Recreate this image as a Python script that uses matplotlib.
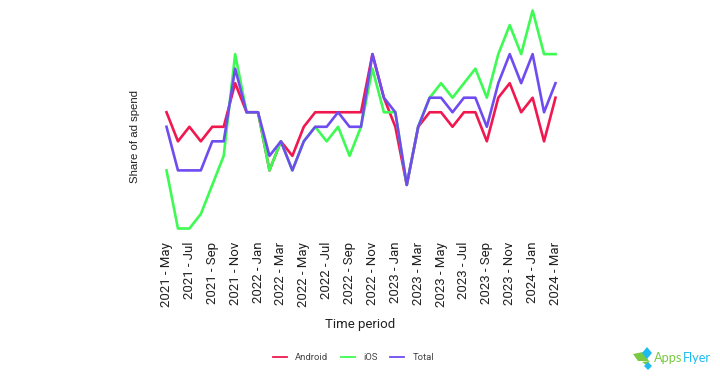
import matplotlib
matplotlib.use("Agg")
import matplotlib.pyplot as plt
from matplotlib.patches import Polygon

plt.rcParams["font.family"] = ["Roboto", "DejaVu Sans"]

# months from 2021 - May to 2024 - Mar, y axis has no scale so values are in relative units
periods = [
    "2021 - May", "2021 - Jun", "2021 - Jul", "2021 - Aug", "2021 - Sep", "2021 - Oct", "2021 - Nov",
    "2021 - Dec", "2022 - Jan", "2022 - Feb", "2022 - Mar", "2022 - Apr", "2022 - May", "2022 - Jun",
    "2022 - Jul", "2022 - Aug", "2022 - Sep", "2022 - Oct", "2022 - Nov", "2022 - Dec", "2023 - Jan",
    "2023 - Feb", "2023 - Mar", "2023 - Apr", "2023 - May", "2023 - Jun", "2023 - Jul", "2023 - Aug",
    "2023 - Sep", "2023 - Oct", "2023 - Nov", "2023 - Dec", "2024 - Jan", "2024 - Feb", "2024 - Mar",
]
android = [8, 6, 7, 6, 7, 7, 10, 8, 8, 4, 6, 5, 7, 8, 8, 8, 8, 8, 12, 9, 7, 3, 7, 8, 8, 7, 8, 8, 6, 9, 10, 8, 9, 6, 9]
ios = [4, 0, 0, 1, 3, 5, 12, 8, 8, 4, 6, 4, 6, 7, 6, 7, 5, 7, 11, 8, 8, 3, 7, 9, 10, 9, 10, 11, 9, 12, 14, 12, 15, 12, 12]
total = [7, 4, 4, 4, 6, 6, 11, 8, 8, 5, 6, 4, 6, 7, 7, 8, 7, 7, 12, 9, 8, 3, 7, 9, 9, 8, 9, 9, 7, 10, 12, 10, 12, 8, 10]

W, H = 720, 376
fig = plt.figure(figsize=(W / 100, H / 100), dpi=100)
ax = fig.add_axes([154.5 / W, 1 - 235.5 / H, 413 / W, 235 / H])

x = list(range(len(periods)))
ax.plot(x, android, color="#F0184F", lw=1.9, label="Android")
ax.plot(x, ios, color="#3DFB52", lw=1.9, label="iOS")
ax.plot(x, total, color="#6F4CF0", lw=1.9, label="Total")

ax.set_xlim(-1.05, 35.05)
ax.set_ylim(-0.48, 15.69)
ax.set_yticks([])
ax.set_xticks(x[::2])
ax.set_xticklabels(periods[::2], rotation=90, fontsize=9.5, color="#222222")
ax.tick_params(axis="x", length=0, pad=4.5)
for s in ax.spines.values():
    s.set_visible(False)

fig.text(360 / W, 1 - 324.5 / H, "Time period", ha="center", va="center", fontsize=9.5, color="#222222")
fig.text(134.5 / W, 1 - 137 / H, "Share of ad spend", ha="center", va="center", rotation=90, fontsize=8.2,
         family="Liberation Sans", color="#222222")

handles, labels = ax.get_legend_handles_labels()
leg = fig.legend(handles, labels, loc="center", bbox_to_anchor=(353.5 / W, 1 - 358 / H), ncol=3, frameon=False,
                 fontsize=6.8, labelcolor="#444444", handlelength=1.5, handletextpad=0.9, columnspacing=1.3)
for line in leg.get_lines():
    line.set_linewidth(1.3)

# logo, drawn in pixel coordinates on a full figure overlay
logo = fig.add_axes([0, 0, 1, 1])
logo.set_xlim(0, W)
logo.set_ylim(H, 0)
logo.axis("off")
logo.patch.set_alpha(0)
logo.add_patch(Polygon([(633, 354), (643, 352), (649, 361), (638, 361)], color="#7AC943", lw=0))
logo.add_patch(Polygon([(642, 362), (650, 361), (646, 365)], color="#7AC943", lw=0))
logo.add_patch(Polygon([(647, 347), (652, 353), (647, 359), (642, 353)], color="#1EBBF0", lw=0))
logo.add_patch(Polygon([(648, 362), (652, 366), (648, 370), (644, 366)], color="#1EBBF0", lw=0))
logo.text(654, 358.5, "Apps", ha="left", va="center", fontsize=9.2, family="Lato", color="#7AC943")
logo.text(683, 358.5, "Flyer", ha="left", va="center", fontsize=9.2, family="Lato", color="#1EBBF0")

fig.savefig("out.png", dpi=100)
plt.close(fig)
